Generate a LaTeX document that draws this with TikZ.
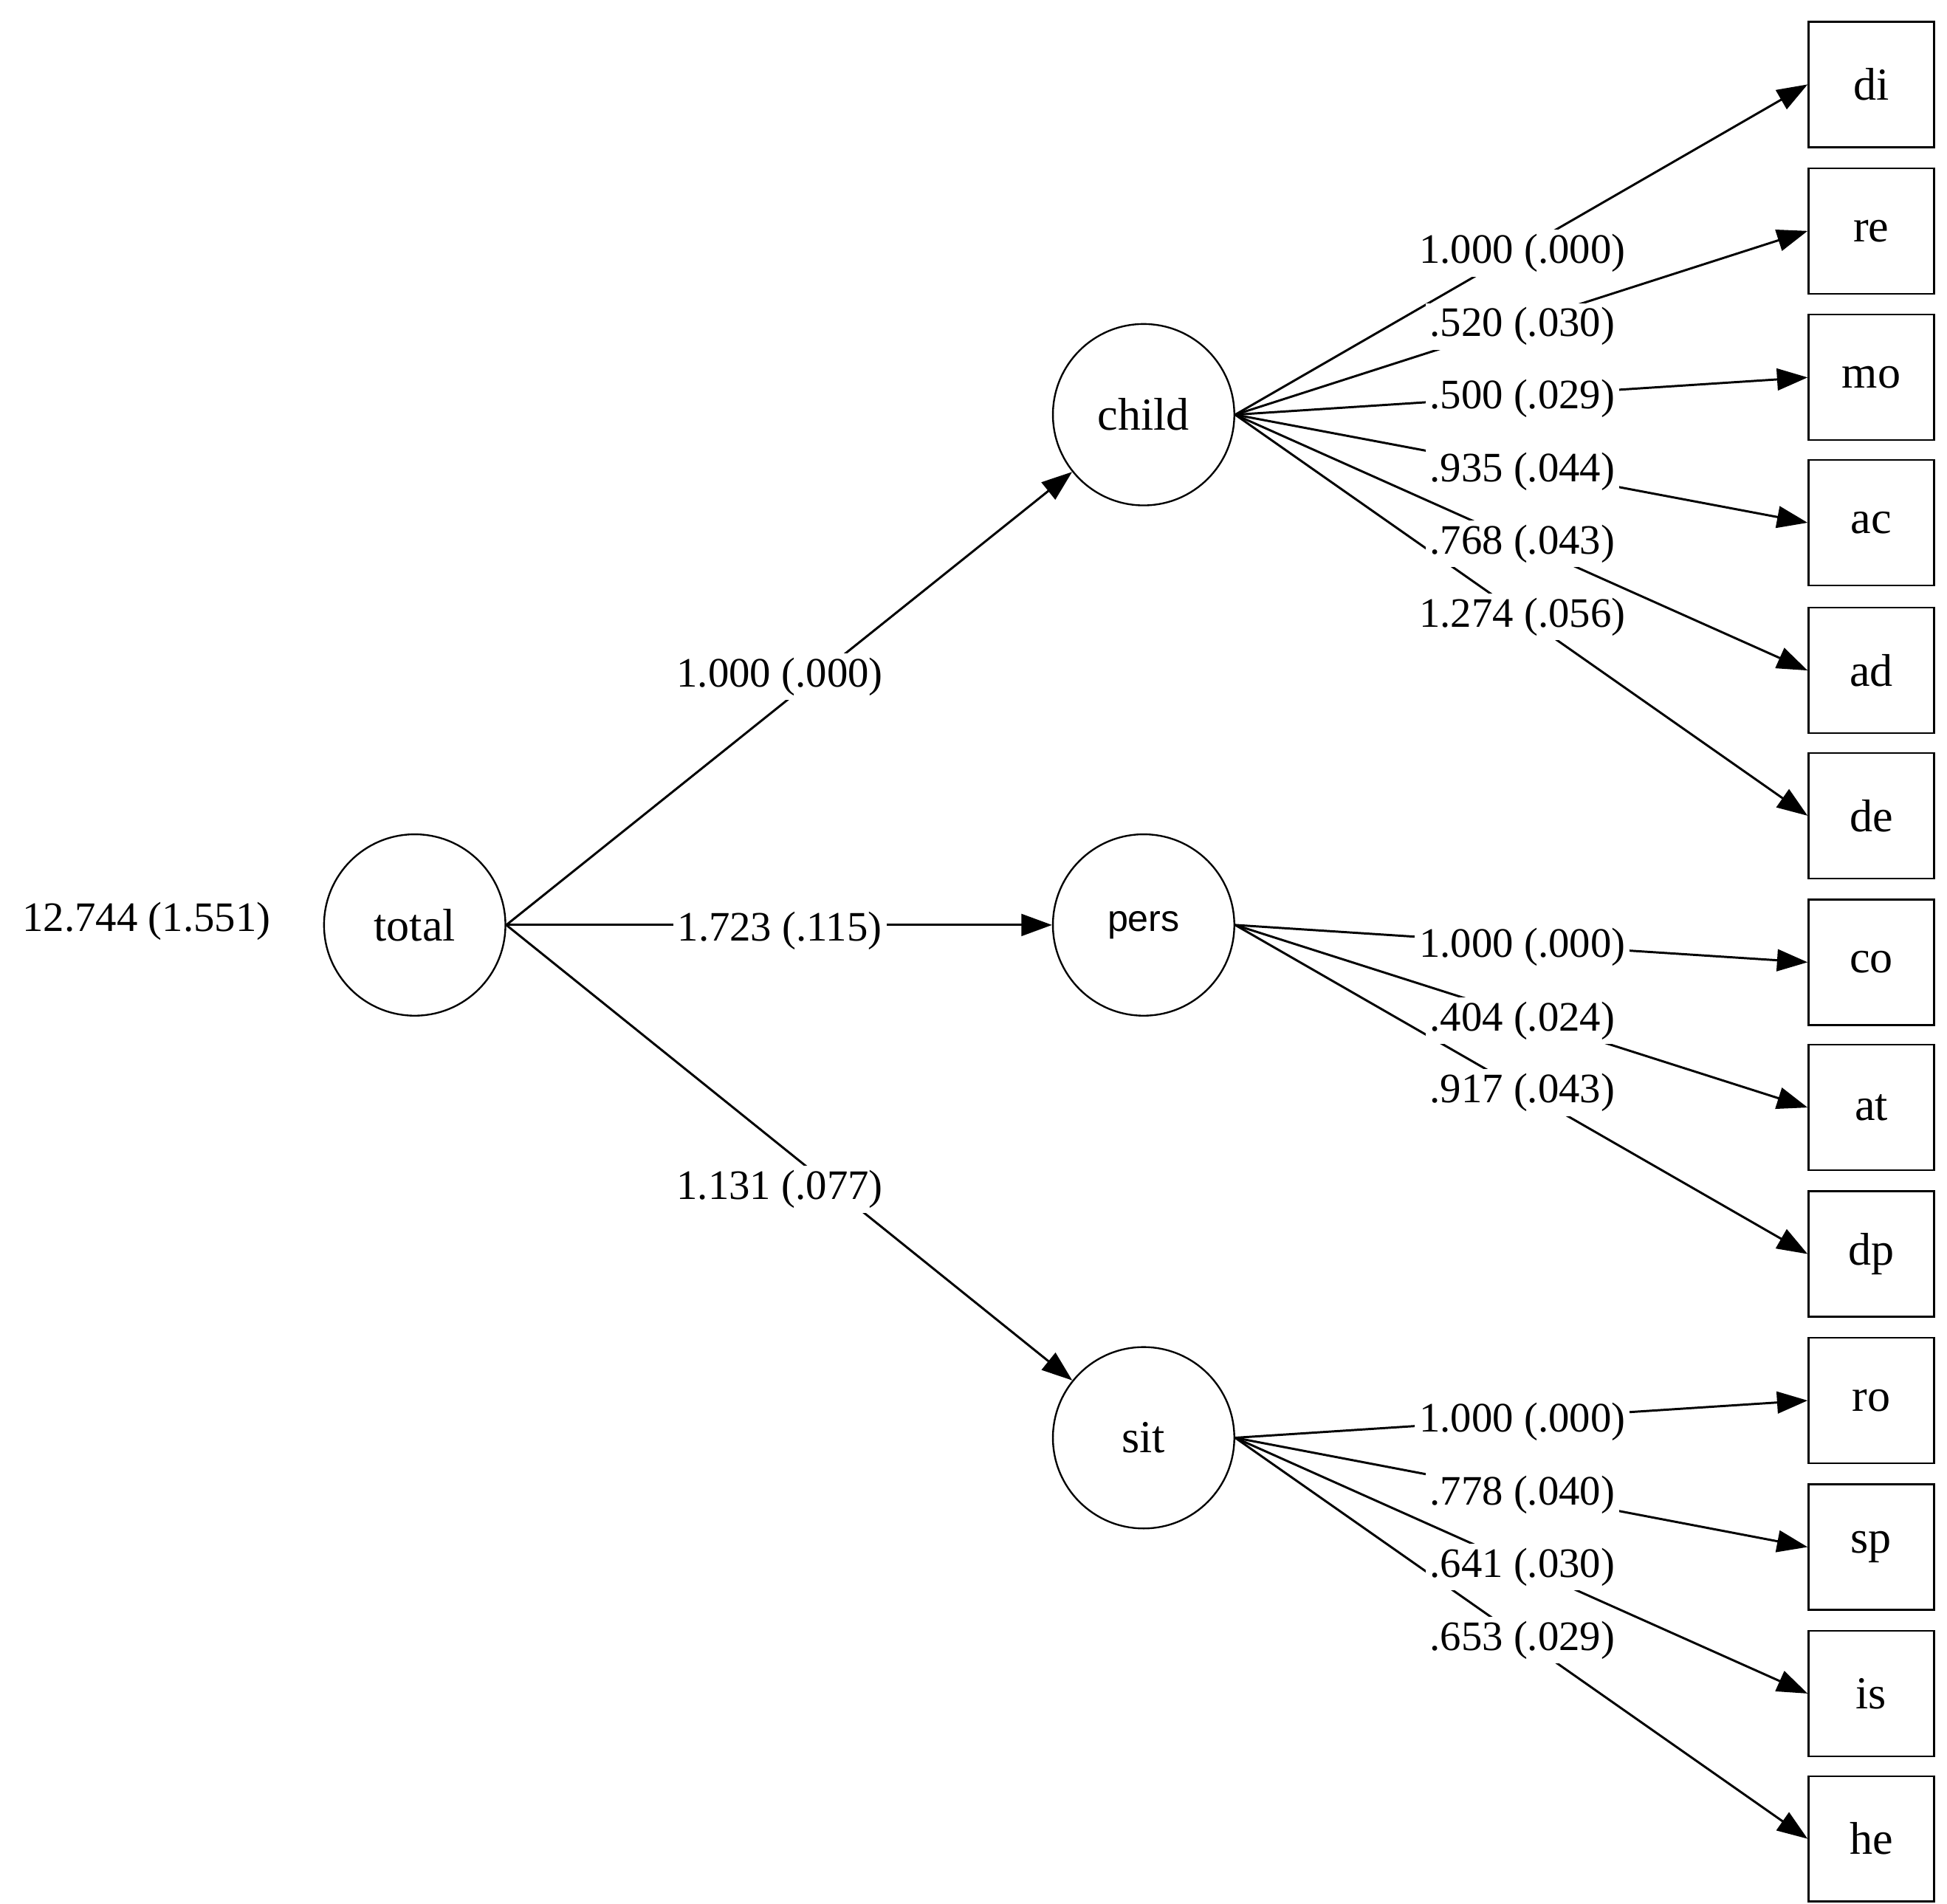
\documentclass[tikz,border=0pt]{standalone}
\usepackage{fontspec}
\setmainfont{Liberation Serif}
\newfontfamily\sansf{Liberation Sans}
\usetikzlibrary{arrows.meta}
\begin{document}
\begin{tikzpicture}[x=0.01cm,y=-0.01cm,
  lat/.style={draw,circle,minimum size=1.46cm,inner sep=0pt,font=\fontsize{10.5}{12}\selectfont},
  obs/.style={draw,minimum size=1.01cm,inner sep=0pt,font=\fontsize{10.5}{12}\selectfont},
  lab/.style={fill=white,inner sep=1pt,font=\fontsize{9.6}{11}\selectfont},
  ar/.style={-{Triangle[length=7pt,width=5pt]},line width=0.5pt},
  ln/.style={line width=0.5pt}]
\useasboundingbox (0,0) rectangle (1568,1533);
\node[lat] (total) at (334,745) {total};
\node[lat] (child) at (921,334) {child};
\node[lat] (pers) at (921,745) {\sansf\fontsize{8.5}{10}\selectfont pers};
\node[lat] (sit) at (921,1158) {sit};
\foreach \n/\y in {di/68,re/186,mo/304,ac/421,ad/540,de/657,co/775,at/892,dp/1010,ro/1128,sp/1246,is/1364,he/1481}
  \node[obs] (\n) at (1507,\y) {\n};
\node[font=\fontsize{9.6}{11}\selectfont] (var) at (118,742) {12.744 (1.551)};
\draw[ar] (total.east) -- (child);
\draw[ar] (total.east) -- (pers);
\draw[ar] (total.east) -- (sit);
\foreach \n in {di,re,mo,ac,ad,de} \draw[ar] (child.east) -- (\n.west);
\foreach \n in {co,at,dp} \draw[ar] (pers.east) -- (\n.west);
\foreach \n in {ro,sp,is,he} \draw[ar] (sit.east) -- (\n.west);
\node[lab] (l1) at (628,545) {1.000 (.000)};
\node[lab] (l2) at (628,750) {1.723 (.115)};
\node[lab] (l3) at (628,958) {1.131 (.077)};
\node[lab] (c1) at (1226,204) {1.000 (.000)};
\node[lab] (c2) at (1226,263) {.520 (.030)};
\node[lab] (c3) at (1226,321) {.500 (.029)};
\node[lab] (c4) at (1226,380) {.935 (.044)};
\node[lab] (c5) at (1226,438) {.768 (.043)};
\node[lab] (c6) at (1226,497) {1.274 (.056)};
\node[lab] (p1) at (1226,763) {1.000 (.000)};
\node[lab] (p2) at (1226,822) {.404 (.024)};
\node[lab] (p3) at (1226,880) {.917 (.043)};
\node[lab] (s1) at (1226,1145) {1.000 (.000)};
\node[lab] (s2) at (1226,1204) {.778 (.040)};
\node[lab] (s3) at (1226,1262) {.641 (.030)};
\node[lab] (s4) at (1226,1321) {.653 (.029)};
\end{tikzpicture}
\end{document}
